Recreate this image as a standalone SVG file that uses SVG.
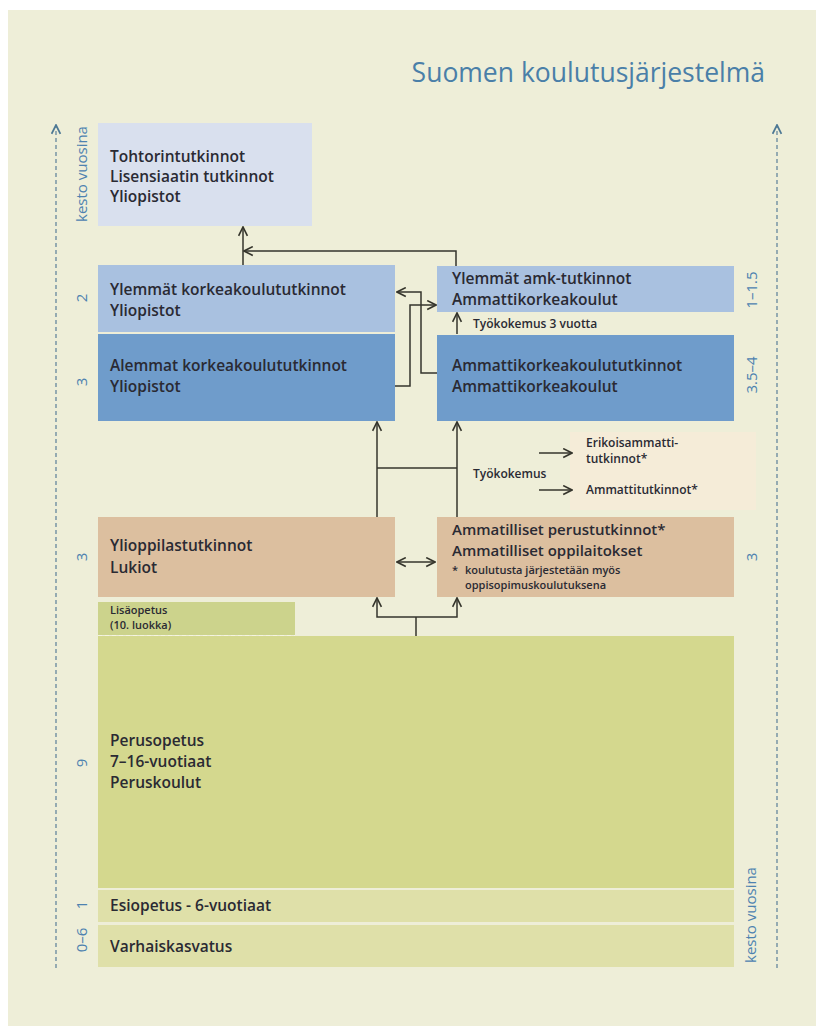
<svg xmlns="http://www.w3.org/2000/svg" width="816" height="1026" viewBox="0 0 816 1026">
<defs>
<style>
.t{font-family:"Open Sans","Liberation Sans",sans-serif;fill:#2a2a33;font-size:15.5px;font-weight:600}
.s{font-family:"Open Sans","Liberation Sans",sans-serif;fill:#2a2a33;font-size:12px;font-weight:600}
.f{font-family:"Open Sans","Liberation Sans",sans-serif;fill:#2a2a33;font-size:11px;font-weight:600}
.b{font-family:"Open Sans","Liberation Sans",sans-serif;fill:#4d82b0;font-size:15px}
.c{fill:none;stroke:#35352c;stroke-width:1.5}
.ax{fill:none;stroke:#5a7f98;stroke-width:1.2;stroke-dasharray:4 3}
</style>
<marker id="arr" viewBox="0 0 10 10" refX="9" refY="5" markerWidth="11" markerHeight="11" markerUnits="userSpaceOnUse" orient="auto-start-reverse"><path d="M1,1 L9,5 L1,9" fill="none" stroke="#35352c" stroke-width="1.5"/></marker>
<marker id="axa" viewBox="0 0 10 10" refX="9" refY="5" markerWidth="11" markerHeight="11" markerUnits="userSpaceOnUse" orient="auto"><path d="M1,1 L9,5 L1,9" fill="none" stroke="#4d7894" stroke-width="1.6"/></marker>
</defs>
<rect x="0" y="0" width="816" height="1026" fill="#ffffff"/>
<rect x="8" y="10" width="808" height="1016" fill="#eeeed8"/>
<text x="765" y="82" text-anchor="end" style="font-family:'Open Sans','Liberation Sans',sans-serif;font-size:26.5px;fill:#4a7fa8">Suomen koulutusjärjestelmä</text>

<g id="axes">
<line class="ax" x1="56" y1="968" x2="56" y2="125" marker-end="url(#axa)"/>
<line class="ax" x1="777" y1="968" x2="777" y2="125" marker-end="url(#axa)"/>
<text class="b" transform="translate(87,174) rotate(-90)" text-anchor="middle">kesto vuosina</text>
<text class="b" transform="translate(756,915) rotate(-90)" text-anchor="middle">kesto vuosina</text>
<text class="b" transform="translate(87,298) rotate(-90)" text-anchor="middle">2</text>
<text class="b" transform="translate(87,382) rotate(-90)" text-anchor="middle">3</text>
<text class="b" transform="translate(87,557) rotate(-90)" text-anchor="middle">3</text>
<text class="b" transform="translate(87,763) rotate(-90)" text-anchor="middle">9</text>
<text class="b" transform="translate(87,905) rotate(-90)" text-anchor="middle">1</text>
<text class="b" transform="translate(87,940) rotate(-90)" text-anchor="middle">0–6</text>
<text class="b" transform="translate(757,290) rotate(-90)" text-anchor="middle">1–1.5</text>
<text class="b" transform="translate(757,375) rotate(-90)" text-anchor="middle">3.5–4</text>
<text class="b" transform="translate(757,557) rotate(-90)" text-anchor="middle">3</text>
</g>

<g id="tohtori">
<rect x="98" y="123" width="214" height="103" fill="#d9e0ee"/>
<text class="t" x="110" y="162">Tohtorintutkinnot</text>
<text class="t" x="110" y="182">Lisensiaatin tutkinnot</text>
<text class="t" x="110" y="202">Yliopistot</text>
</g>
<g id="ylemmat-kk">
<rect x="98" y="265" width="297" height="67" fill="#a9c1e0"/>
<text class="t" x="110" y="295">Ylemmät korkeakoulututkinnot</text>
<text class="t" x="110" y="316">Yliopistot</text>
</g>
<g id="alemmat-kk">
<rect x="98" y="334" width="297" height="87" fill="#6f9ccb"/>
<text class="t" x="110" y="371">Alemmat korkeakoulututkinnot</text>
<text class="t" x="110" y="392">Yliopistot</text>
</g>
<g id="ylemmat-amk">
<rect x="437" y="266" width="297" height="46" fill="#a9c1e0"/>
<text class="t" x="452" y="284">Ylemmät amk-tutkinnot</text>
<text class="t" x="452" y="305">Ammattikorkeakoulut</text>
</g>
<g id="amk">
<rect x="437" y="335" width="297" height="86" fill="#6f9ccb"/>
<text class="t" x="452" y="371">Ammattikorkeakoulututkinnot</text>
<text class="t" x="452" y="392">Ammattikorkeakoulut</text>
</g>
<g id="tyokokemus">
<rect x="570" y="432" width="186" height="78" fill="#f5ecd8"/>
<text class="s" x="473" y="478">Työkokemus</text>
<text class="s" x="586" y="447">Erikoisammatti-</text>
<text class="s" x="586" y="463">tutkinnot*</text>
<text class="s" x="586" y="494">Ammattitutkinnot*</text>
</g>
<g id="ylioppilas">
<rect x="98" y="517" width="297" height="80" fill="#dcbf9f"/>
<text class="t" x="110" y="551">Ylioppilastutkinnot</text>
<text class="t" x="110" y="573">Lukiot</text>
</g>
<g id="ammatilliset">
<rect x="437" y="517" width="297" height="80" fill="#dcbf9f"/>
<text class="t" x="452" y="535" style="font-size:15px">Ammatilliset perustutkinnot*</text>
<text class="t" x="452" y="556" style="font-size:15px">Ammatilliset oppilaitokset</text>
<text class="f" x="452" y="574">*</text>
<text class="f" x="465" y="574">koulutusta järjestetään myös</text>
<text class="f" x="465" y="589">oppisopimuskoulutuksena</text>
</g>
<g id="lisaopetus">
<rect x="98" y="602" width="197" height="33" fill="#ccd38c"/>
<text class="f" x="110" y="614">Lisäopetus</text>
<text class="f" x="110" y="629">(10. luokka)</text>
<line x1="98" y1="635.5" x2="295" y2="635.5" stroke="#f4f4e0" stroke-width="1.2" stroke-dasharray="4 3"/>
</g>
<g id="perusopetus">
<rect x="98" y="636" width="636" height="252" fill="#d4d88e"/>
<text class="t" x="110" y="746">Perusopetus</text>
<text class="t" x="110" y="767">7–16-vuotiaat</text>
<text class="t" x="110" y="788">Peruskoulut</text>
</g>
<g id="esiopetus">
<rect x="98" y="890" width="636" height="32" fill="#dfe0a9"/>
<text class="t" x="110" y="911">Esiopetus - 6-vuotiaat</text>
</g>
<g id="varhaiskasvatus">
<rect x="98" y="925" width="636" height="42" fill="#dfe0a9"/>
<text class="t" x="110" y="952">Varhaiskasvatus</text>
</g>

<g id="connectors">
<line class="c" x1="243" y1="265" x2="243" y2="227" marker-end="url(#arr)"/>
<polyline class="c" points="456,266 456,251 244,251" marker-end="url(#arr)"/>
<polyline class="c" points="437,373 421,373 421,292 397,292" marker-end="url(#arr)"/>
<polyline class="c" points="395,386 410,386 410,305 436,305" marker-end="url(#arr)"/>
<line class="c" x1="457" y1="334" x2="457" y2="313" marker-end="url(#arr)"/>
<text class="s" x="473" y="328">Työkokemus 3 vuotta</text>
<line class="c" x1="377" y1="517" x2="377" y2="422" marker-end="url(#arr)"/>
<line class="c" x1="457" y1="517" x2="457" y2="422" marker-end="url(#arr)"/>
<line class="c" x1="377" y1="468" x2="457" y2="468"/>
<line class="c" x1="539" y1="453" x2="572" y2="453" marker-end="url(#arr)"/>
<line class="c" x1="539" y1="490" x2="572" y2="490" marker-end="url(#arr)"/>
<line class="c" x1="397" y1="562" x2="435" y2="562" marker-start="url(#arr)" marker-end="url(#arr)"/>
<polyline class="c" points="377,598 377,617 457,617 457,598" marker-start="url(#arr)" marker-end="url(#arr)"/>
<line class="c" x1="416" y1="617" x2="416" y2="636"/>
</g>
</svg>
